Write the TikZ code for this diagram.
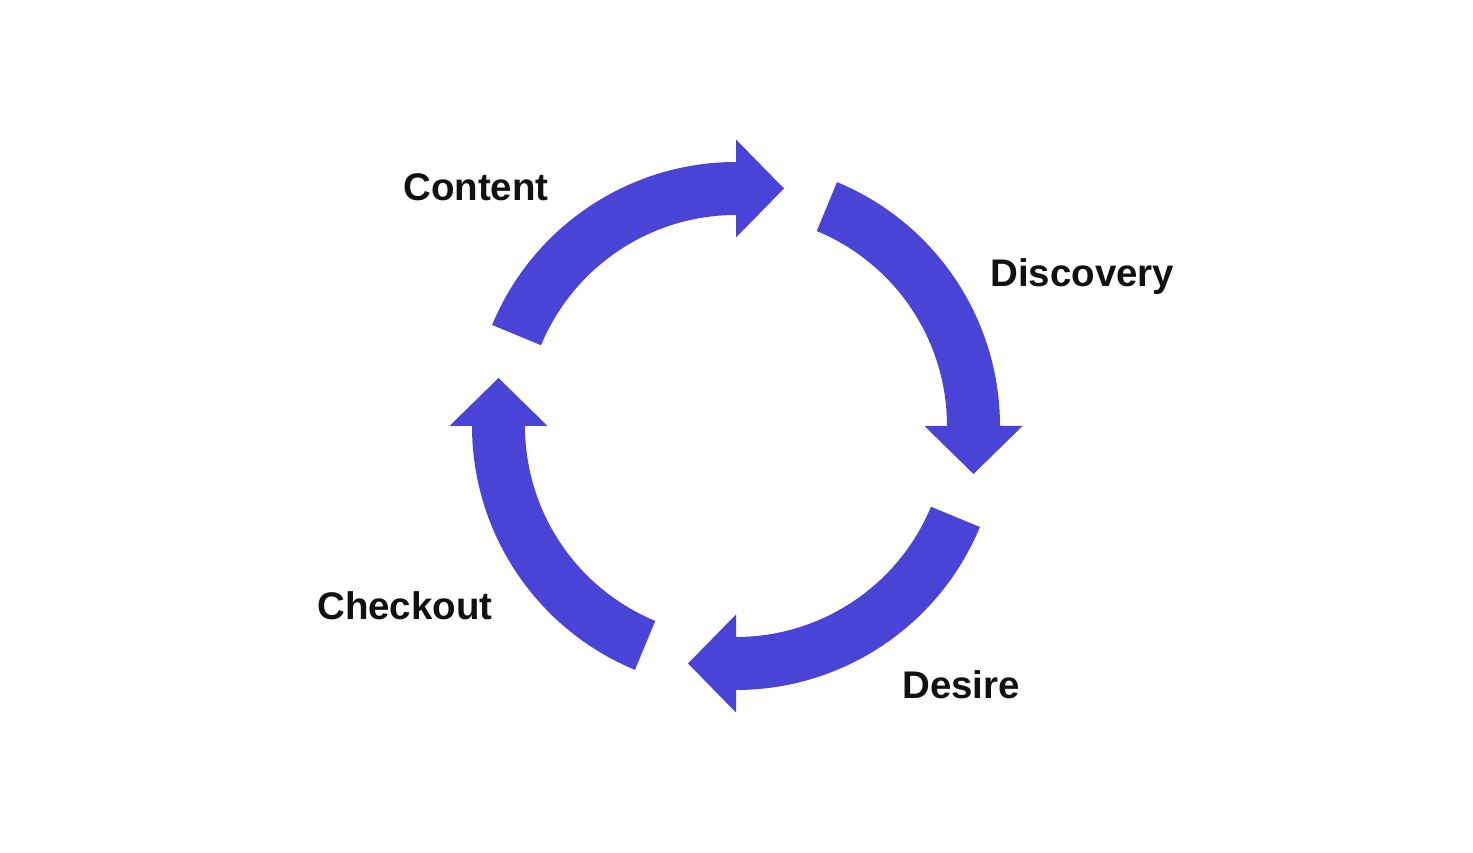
\documentclass[tikz,border=0pt]{standalone}
\usepackage{fontspec}
\setmainfont{Liberation Sans}
\definecolor{arrowblue}{HTML}{4A44D6}
\definecolor{labelink}{HTML}{111111}
\begin{document}
\begin{tikzpicture}[x=1pt,y=1pt,
  cyclearrow/.style={fill=arrowblue},
  stagelabel/.style={anchor=base west,inner sep=0pt,text=labelink,font=\fontsize{38.5}{44}\selectfont\bfseries}]
\useasboundingbox (0,0) rectangle (1473,853);
\coordinate (c) at (736,427);
\foreach \k in {0,1,2,3}{
  \begin{scope}[shift={(c)},rotate=-90*\k]
    \fill[cyclearrow] (157.5:264) arc[start angle=157.5,end angle=90,radius=264]
      -- (90:286.5) -- (48,237.5) -- (90:188.5) -- (90:211)
      arc[start angle=90,end angle=157.5,radius=211] -- cycle;
  \end{scope}
}
\node[stagelabel] (content) at (403,652) {Content};
\node[stagelabel] (discovery) at (990,566) {Discovery};
\node[stagelabel] (desire) at (902,154) {Desire};
\node[stagelabel] (checkout) at (317,233) {Checkout};
\end{tikzpicture}
\end{document}
